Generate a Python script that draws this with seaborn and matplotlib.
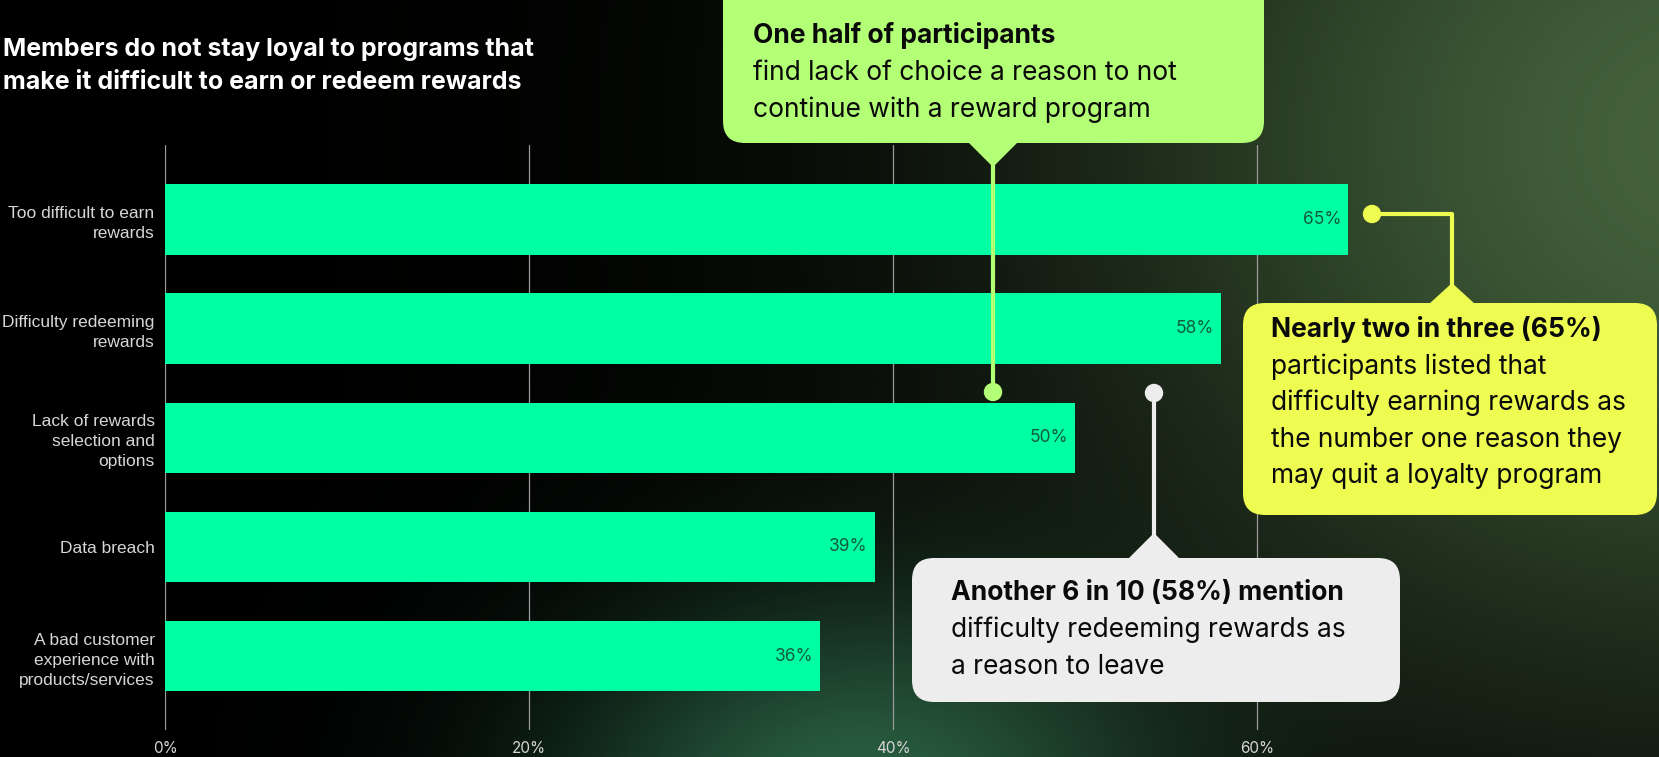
import numpy as np
import pandas as pd
import matplotlib
matplotlib.use("Agg")
import matplotlib.pyplot as plt
import seaborn as sns
from matplotlib.patches import FancyBboxPatch, Polygon, Circle

# ---- data -------------------------------------------------------------
reasons = [
    "Too difficult to earn\nrewards",
    "Difficulty redeeming\nrewards",
    "Lack of rewards\nselection and\noptions",
    "Data breach",
    "A bad customer\nexperience with\nproducts/services",
]
shares = [65, 58, 50, 39, 36]
tick_values = [0, 20, 40, 60]
tick_labels = ["0%", "20%", "40%", "60%"]

title_lines = [
    "Members do not stay loyal to programs that",
    "make it difficult to earn or redeem rewards",
]
note_half = ["One half of participants",
             "find lack of choice a reason to not",
             "continue with a reward program"]
note_two_in_three = ["Nearly two in three (65%)",
                     "participants listed that",
                     "difficulty earning rewards as",
                     "the number one reason they",
                     "may quit a loyalty program"]
note_six_in_ten = ["Another 6 in 10 (58%) mention",
                   "difficulty redeeming rewards as",
                   "a reason to leave"]

# ---- style ------------------------------------------------------------
BAR = "#00FFA3"
LIME = "#B3FF75"
YELLOW = "#EEFC52"
PALE = "#EDEDED"
GRID = "#9a9a9a"
LABEL = "#d6d6d6"

sns.set_theme(style="dark", rc={"axes.facecolor": "none", "figure.facecolor": "black"})
plt.rcParams["font.family"] = ["Inter", "DejaVu Sans"]

W, H = 1659, 757
fig = plt.figure(figsize=(W / 100, H / 100), dpi=100)

# ---- background glow ----------------------------------------------------
bg = fig.add_axes([0, 0, 1, 1], zorder=0)
yy, xx = np.mgrid[0:H, 0:W].astype(float)
img = np.zeros((H, W, 3))
olive = np.array([68, 98, 60]) / 255.0
pine = np.array([38, 90, 62]) / 255.0
g1 = np.exp(-0.5 * (((xx - 1720) / 460) ** 2 + ((yy - 140) / 400) ** 2))
g2 = np.exp(-0.5 * (((xx - 850) / 210) ** 2 + ((yy - 800) / 140) ** 2))
img += g1[..., None] * olive + g2[..., None] * pine
img = np.clip(img, 0, 1)
bg.imshow(img, extent=(0, W, H, 0), aspect="auto", interpolation="bilinear")
bg.set_xlim(0, W)
bg.set_ylim(H, 0)
bg.axis("off")

# ---- bar chart ----------------------------------------------------------
ax = fig.add_axes([165 / W, 1 - 730 / H, 1456 / W, 585 / H], zorder=2)
df = pd.DataFrame({"reason": reasons, "share": shares})
sns.barplot(data=df, x="share", y="reason", orient="h", color=BAR,
            saturation=1, width=0.645, ax=ax, zorder=3,
            edgecolor="none", linewidth=0)
ax.set_xlim(0, 80)
ax.set_ylim(4.676, -0.681)
ax.set_xticks(tick_values)
ax.set_xticklabels(tick_labels, fontsize=11, color=LABEL)
ax.set_xlabel("")
ax.set_ylabel("")
ax.grid(False)
for v in tick_values:
    ax.axvline(v, color=GRID, lw=0.9, zorder=1)
for s in ax.spines.values():
    s.set_visible(False)
ax.tick_params(axis="x", length=0, pad=8)
ax.tick_params(axis="y", length=0, pad=7.5)
for lab in ax.get_yticklabels():
    lab.set_fontfamily("Liberation Sans")
    lab.set_fontsize(12.5)
    lab.set_color(LABEL)
    lab.set_linespacing(1.42)
    lab.set_ha("right")

for i, v in enumerate(shares):
    ax.text(v - 0.38, i, f"{v}%", ha="right", va="center",
            fontsize=12.5, color="#125c3c", zorder=4)

# ---- overlay for title and call-outs (pixel units) ------------------------
ov = fig.add_axes([0, 0, 1, 1], zorder=5)
ov.set_xlim(0, W)
ov.set_ylim(H, 0)
ov.axis("off")
ov.patch.set_alpha(0)

for k, line in enumerate(title_lines):
    ov.text(3, 56 + 33 * k, line, fontsize=18, fontweight="bold",
            color="white", va="baseline", ha="left")


def callout(x0, y0, x1, y1, color, tri, lines, tx, baselines, fs=19):
    box = FancyBboxPatch((x0, y0), x1 - x0, y1 - y0,
                         boxstyle="round,pad=0,rounding_size=22",
                         facecolor=color, edgecolor="none", zorder=6)
    ov.add_patch(box)
    ov.add_patch(Polygon(tri, closed=True, facecolor=color,
                         edgecolor="none", zorder=6))
    for k, (line, b) in enumerate(zip(lines, baselines)):
        ov.text(tx, b, line, fontsize=fs, color="#0a0a0a",
                fontweight="bold" if k == 0 else "normal",
                va="baseline", ha="left", zorder=7)


# lime call-out (50%)
ov.plot([993, 993], [160, 392], color=LIME, lw=3, zorder=5, solid_capstyle="butt")
ov.add_patch(Circle((993, 392), 8.5, color=LIME, zorder=5))
callout(723, -30, 1264, 143, LIME,
        [(968, 142), (1018, 142), (993, 167)],
        note_half, 753, [43, 80, 117])

# yellow call-out (65%)
ov.plot([1372, 1452, 1452], [214, 214, 290], color=YELLOW, lw=3, zorder=5)
ov.add_patch(Circle((1372, 214), 8.5, color=YELLOW, zorder=5))
callout(1243, 303, 1657, 515, YELLOW,
        [(1429, 304), (1475, 304), (1452, 283)],
        note_two_in_three, 1271, [337, 373.5, 410, 447, 483])

# pale call-out (58%)
ov.plot([1154, 1154], [393, 540], color=PALE, lw=3, zorder=5)
ov.add_patch(Circle((1154, 393), 8.5, color=PALE, zorder=5))
callout(912, 558, 1400, 702, PALE,
        [(1128, 559), (1180, 559), (1154, 533)],
        note_six_in_ten, 951, [600, 637, 674])

fig.savefig("out.png", dpi=100, facecolor="black")
